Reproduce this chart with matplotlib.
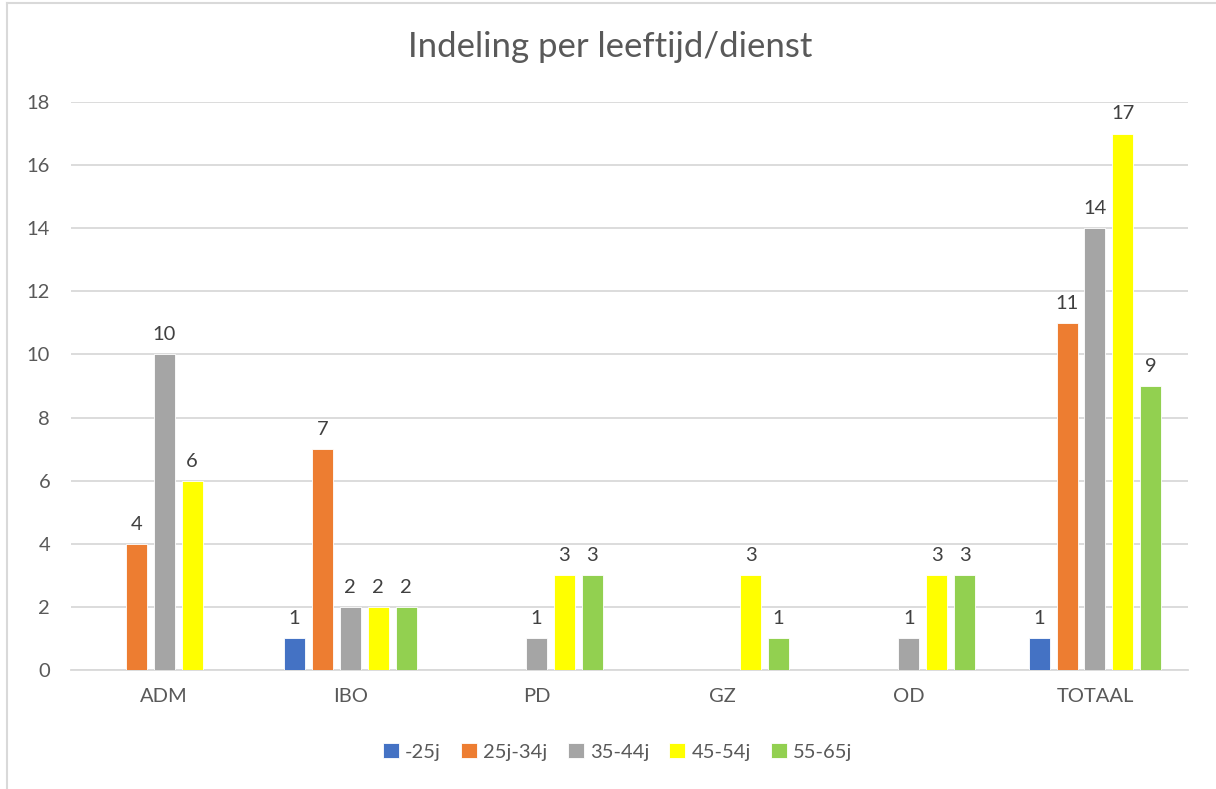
import numpy as np
import matplotlib.pyplot as plt
from matplotlib.lines import Line2D

plt.rcParams['font.family'] = ['Lato', 'DejaVu Sans']

categories = ["ADM", "IBO", "PD", "GZ", "OD", "TOTAAL"]
series_names = ["-25j", "25j-34j", "35-44j", "45-54j", "55-65j"]
values_25 = [0, 1, 0, 0, 0, 1]
values_25_34 = [4, 7, 0, 0, 0, 11]
values_35_44 = [10, 2, 1, 0, 1, 14]
values_45_54 = [6, 2, 3, 3, 3, 17]
values_55_65 = [0, 2, 3, 1, 3, 9]
colors = ["#4472C4", "#ED7D31", "#A5A5A5", "#FFFF00", "#92D050"]

all_values = [values_25, values_25_34, values_35_44, values_45_54, values_55_65]

text_color = "#595959"
grid_color = "#D9D9D9"

fig = plt.figure(figsize=(12.16, 7.89), dpi=100)
ax = fig.add_axes([0.0584, 0.1508, 0.9186, 0.7199])

x = np.arange(len(categories))
step = 0.150
width = 0.113

for i, (name, vals, col) in enumerate(zip(series_names, all_values, colors)):
    offs = (i - 2) * step
    vals = np.array(vals, dtype=float)
    bars = ax.bar(x + offs, vals, width=width, color=col, label=name,
                  edgecolor="white", linewidth=0.6, zorder=3)
    for b, v in zip(bars, vals):
        if v > 0:
            ax.annotate(f"{int(v)}", (b.get_x() + b.get_width() / 2, v),
                        xytext=(0, 8), textcoords="offset points",
                        ha="center", va="bottom", fontsize=14.5, color="#404040")

ax.set_xlim(-0.5, len(categories) - 0.5)
ax.set_ylim(0, 18)
ax.set_yticks(range(0, 19, 2))
ax.set_xticks(x)
ax.set_xticklabels(categories)
ax.tick_params(axis="both", length=0, colors=text_color, labelsize=14.5)
ax.tick_params(axis="x", pad=13)
ax.tick_params(axis="y", pad=15)
ax.grid(axis="y", color=grid_color, linewidth=1.3, zorder=0)
for s in ["top", "right", "left"]:
    ax.spines[s].set_visible(False)
ax.spines["bottom"].set_color(grid_color)
ax.spines["bottom"].set_linewidth(1.3)

fig.text(0.502, 1 - 47 / 789, "Indeling per leeftijd/dienst", ha="center",
         va="center", fontsize=25, color=text_color)

fig.legend(loc="center", bbox_to_anchor=(0.508, 0.047), ncol=5, frameon=False,
           fontsize=14.5, labelcolor=text_color, handlelength=0.8,
           handleheight=0.8, handletextpad=0.3, columnspacing=1.0)

# chart border (top and left visible in the crop)
fig.add_artist(Line2D([7 / 1216, 1], [1 - 3 / 789, 1 - 3 / 789],
                      transform=fig.transFigure, color=grid_color, linewidth=1.5))
fig.add_artist(Line2D([7 / 1216, 7 / 1216], [0, 1 - 3 / 789],
                      transform=fig.transFigure, color=grid_color, linewidth=1.5))

fig.savefig("out.png", dpi=100)
